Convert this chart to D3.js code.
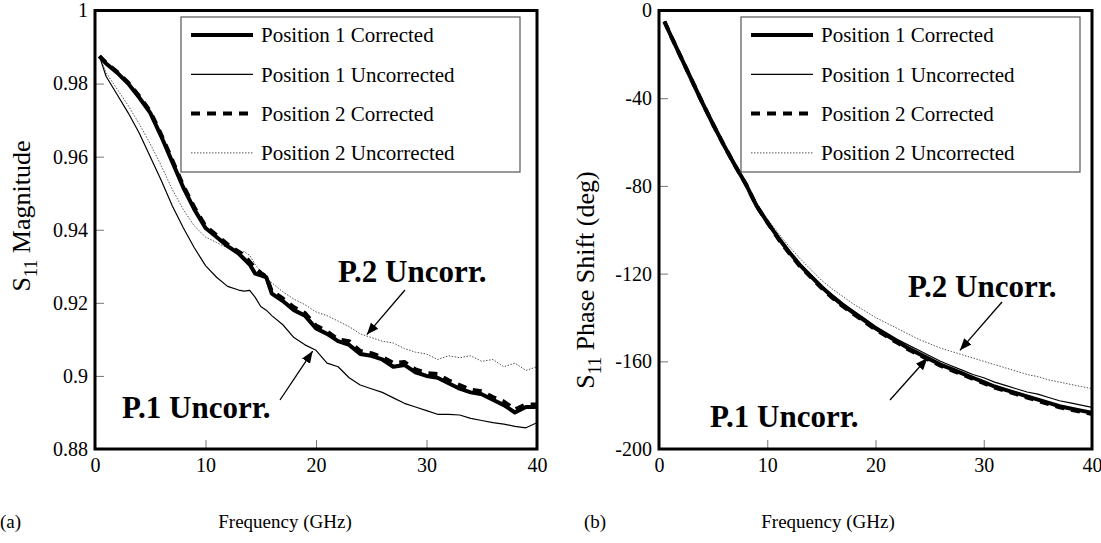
<!DOCTYPE html>
<html>
<head>
<meta charset="utf-8">
<script src="https://cdn.jsdelivr.net/npm/d3@7"></script>
<style>
  body { margin: 0; background: #fff; }
  svg { display: block; }
</style>
</head>
<body>
<div id="chart"></div>
<script>
// ---- data ----
var seriesNames = ['Position 1 Corrected', 'Position 1 Uncorrected', 'Position 2 Corrected', 'Position 2 Uncorrected'];

var magFreq = [0.4, 1, 2, 3, 4, 5, 6, 7, 8, 9, 10, 11, 12, 13, 13.5, 14, 14.5, 15, 15.5, 16, 17, 18, 19, 20, 21, 22, 23, 24, 25, 26, 27, 28, 29, 30, 31, 32, 33, 34, 35, 36, 37, 38, 39, 40];
var magP1Corr = [0.9875, 0.9855, 0.9830, 0.9800, 0.9762, 0.9720, 0.9655, 0.9585, 0.9515, 0.9455, 0.9405, 0.9380, 0.9355, 0.9335, 0.9320, 0.9305, 0.9280, 0.9275, 0.9270, 0.9225, 0.9205, 0.9180, 0.9165, 0.9130, 0.9115, 0.9095, 0.9085, 0.9060, 0.9055, 0.9045, 0.9025, 0.9030, 0.9010, 0.9000, 0.8995, 0.8980, 0.8965, 0.8955, 0.8950, 0.8935, 0.8920, 0.8900, 0.8915, 0.8915];
var magP2Corr = [0.9875, 0.9857, 0.9832, 0.9803, 0.9766, 0.9724, 0.9660, 0.9590, 0.9520, 0.9461, 0.9410, 0.9385, 0.9360, 0.9340, 0.9330, 0.9312, 0.9295, 0.9282, 0.9272, 0.9232, 0.9212, 0.9188, 0.9172, 0.9138, 0.9122, 0.9100, 0.9095, 0.9068, 0.9062, 0.9052, 0.9035, 0.9038, 0.9018, 0.9008, 0.9005, 0.8988, 0.8975, 0.8962, 0.8958, 0.8942, 0.8930, 0.8908, 0.8922, 0.8922];
var magP1Uncorr = [0.9875, 0.9820, 0.9770, 0.9720, 0.9665, 0.9600, 0.9535, 0.9465, 0.9405, 0.9350, 0.9302, 0.9270, 0.9245, 0.9235, 0.9232, 0.9234, 0.9215, 0.9190, 0.9180, 0.9165, 0.9140, 0.9105, 0.9085, 0.9070, 0.9035, 0.9025, 0.8995, 0.8975, 0.8965, 0.8955, 0.8940, 0.8925, 0.8915, 0.8905, 0.8895, 0.8895, 0.8893, 0.8884, 0.8878, 0.8872, 0.8868, 0.8862, 0.8858, 0.8872];
var magP2Uncorr = [0.9875, 0.9830, 0.9785, 0.9740, 0.9690, 0.9635, 0.9575, 0.9510, 0.9455, 0.9410, 0.9380, 0.9365, 0.9350, 0.9335, 0.9340, 0.9330, 0.9305, 0.9285, 0.9270, 0.9255, 0.9230, 0.9210, 0.9195, 0.9175, 0.9165, 0.9150, 0.9135, 0.9115, 0.9105, 0.9095, 0.9090, 0.9075, 0.9065, 0.9060, 0.9045, 0.9055, 0.9050, 0.9055, 0.9040, 0.9045, 0.9025, 0.9035, 0.9015, 0.9025];

var phFreq = [0.5, 1, 2, 3, 4, 5, 6, 7, 8, 9, 10, 11, 12, 13, 14, 15, 16, 17, 18, 19, 20, 21, 22, 23, 24, 25, 26, 27, 28, 29, 30, 31, 32, 33, 34, 35, 36, 37, 38, 39, 40];
var phP1Corr = [-5, -10.5, -21, -31.5, -42, -52, -61.5, -70.5, -79, -89, -96.5, -103.5, -110, -116, -121, -126, -130.5, -134.5, -138, -141.5, -145, -148, -151, -154, -156.5, -159, -161.5, -163.5, -165.5, -167.5, -169.5, -171.5, -173, -174.5, -176, -177.5, -179, -180.5, -181.5, -182.5, -183.5];
var phP2Corr = [-5, -10.5, -21, -31.5, -42, -52, -61.5, -70.5, -79, -89, -96.5, -104, -110.5, -116.5, -121.5, -126.5, -131, -135, -138.5, -142, -145.5, -148.5, -151.5, -154.5, -157, -159.5, -162, -164, -166, -168, -170, -172, -173.5, -175, -176.5, -178, -179.5, -181, -182, -183, -184];
var phP1Uncorr = [-5, -10.5, -21, -31.5, -42, -52, -61.5, -70.5, -79, -88.5, -96, -103, -109.5, -115.5, -120.5, -125.5, -129.5, -133.5, -137, -140.5, -144, -147, -150, -152.5, -155, -157.5, -160, -162, -164, -166, -167.5, -169.5, -171, -172.5, -174, -175, -176.5, -178, -179, -180, -181];
var phP2Uncorr = [-5, -10.5, -21, -31.5, -42, -52, -61.5, -70.5, -78.5, -87.5, -95, -101.5, -107.5, -113, -118, -123, -127, -130.5, -134, -137, -140, -142.5, -145, -147.5, -150, -152, -154, -155.5, -157, -158.5, -160, -161.5, -163, -164.5, -166, -167, -168.5, -169.5, -170.5, -171.5, -172.5];

var freqTicks = [0, 10, 20, 30, 40];
var magTicks = [0.88, 0.9, 0.92, 0.94, 0.96, 0.98, 1];
var magTickLabels = ['0.88', '0.9', '0.92', '0.94', '0.96', '0.98', '1'];
var phTicks = [-200, -160, -120, -80, -40, 0];
var phTickLabels = ['-200', '-160', '-120', '-80', '-40', '0'];

// ---- styles ----
const W = 1101, H = 543;
const serif = "Liberation Serif, 'DejaVu Serif', Times, serif";
var styles = [
    { width: 4, dash: null, color: '#000' },
    { width: 1.2, dash: null, color: '#000' },
    { width: 4, dash: '9,7', color: '#000' },
    { width: 1, dash: '1.5,1.5', color: '#555' }
];

const svg = d3.select('#chart').append('svg')
    .attr('width', W)
    .attr('height', H)
    .attr('font-family', serif);

const defs = svg.append('defs');
defs.append('marker')
    .attr('id', 'arrow')
    .attr('viewBox', '0 0 10 10')
    .attr('refX', 10)
    .attr('refY', 5)
    .attr('markerWidth', 12)
    .attr('markerHeight', 12)
    .attr('markerUnits', 'userSpaceOnUse')
    .attr('orient', 'auto')
    .append('path')
    .attr('d', 'M0,1 L10,5 L0,9 z')
    .attr('fill', '#000');

function drawPanel(opt) {
    const x = d3.scaleLinear().domain([0, 40]).range([opt.x0, opt.x1]);
    const y = d3.scaleLinear().domain(opt.yDomain).range([opt.y1, opt.y0]);
    const g = svg.append('g');

    g.append('clipPath').attr('id', opt.id + '-clip')
        .append('rect')
        .attr('x', opt.x0).attr('y', opt.y0)
        .attr('width', opt.x1 - opt.x0).attr('height', opt.y1 - opt.y0);

    // axes (ticks pointing inward)
    const xAxis = g.append('g')
        .attr('transform', 'translate(0,' + opt.y1 + ')')
        .call(d3.axisBottom(x).tickValues(freqTicks).tickSize(-9).tickPadding(9).tickFormat(d3.format('d')));
    const yAxis = g.append('g')
        .attr('transform', 'translate(' + opt.x0 + ',0)')
        .call(d3.axisLeft(y).tickValues(opt.ticks).tickSize(-9).tickPadding(7)
            .tickFormat((d, i) => opt.tickLabels[i]));
    [xAxis, yAxis].forEach(a => {
        a.attr('font-family', serif);
        a.select('.domain').remove();
        a.selectAll('.tick line').attr('stroke', '#777').attr('stroke-width', 1);
        a.selectAll('.tick text')
            .attr('fill', '#000')
            .style('font-family', serif)
            .style('font-size', '20px');
    });

    // curves
    const line = d3.line()
        .x(d => x(d[0]))
        .y(d => y(d[1]));
    const plot = g.append('g').attr('clip-path', 'url(#' + opt.id + '-clip)');
    // thin ones first, thick ones on top
    [3, 1, 0, 2].forEach(k => {
        const pts = opt.freq.map((f, i) => [f, opt.series[k][i]]);
        plot.append('path')
            .datum(pts)
            .attr('d', line)
            .attr('fill', 'none')
            .attr('stroke', styles[k].color)
            .attr('stroke-width', styles[k].width)
            .attr('stroke-dasharray', styles[k].dash)
            .attr('stroke-linejoin', 'round');
    });

    // frame
    g.append('rect')
        .attr('x', opt.x0).attr('y', opt.y0)
        .attr('width', opt.x1 - opt.x0).attr('height', opt.y1 - opt.y0)
        .attr('fill', 'none')
        .attr('stroke', '#000')
        .attr('stroke-width', 3);

    // legend
    const lg = g.append('g').attr('transform', 'translate(' + opt.legX + ',17)');
    lg.append('rect')
        .attr('x', 0).attr('y', 0)
        .attr('width', 339).attr('height', 155)
        .attr('fill', '#fff')
        .attr('stroke', '#555')
        .attr('stroke-width', 1.2);
    seriesNames.forEach((name, k) => {
        const yy = 18 + k * 39.3;
        lg.append('line')
            .attr('x1', 10).attr('x2', 72)
            .attr('y1', yy).attr('y2', yy)
            .attr('stroke', styles[k].color)
            .attr('stroke-width', styles[k].width)
            .attr('stroke-dasharray', styles[k].dash);
        lg.append('text')
            .attr('x', 80).attr('y', yy)
            .attr('dy', '0.35em')
            .text(name)
            .style('font-family', serif)
            .style('font-size', '21px');
    });

    // y title
    const yt = g.append('text')
        .attr('transform', 'translate(' + opt.yTitleX + ',' + opt.yTitleY + ') rotate(-90)')
        .attr('text-anchor', 'middle')
        .style('font-family', serif)
        .style('font-size', '26px');
    yt.append('tspan').text('S');
    yt.append('tspan').text('11').attr('dy', 7).style('font-size', '18px');
    yt.append('tspan').text(' ' + opt.yTitle).attr('dy', -7);

    // x title and panel tag
    g.append('text')
        .attr('x', opt.xTitleX).attr('y', 528)
        .attr('text-anchor', 'middle')
        .text('Frequency (GHz)')
        .style('font-family', serif)
        .style('font-size', '19px');
    g.append('text')
        .attr('x', opt.tagX).attr('y', 528)
        .text(opt.tag)
        .style('font-family', serif)
        .style('font-size', '19px');

    // annotations
    opt.notes.forEach(n => {
        g.append('text')
            .attr('x', n.tx).attr('y', n.ty)
            .text(n.label)
            .style('font-family', serif)
            .style('font-weight', 'bold')
            .style('font-size', '31px');
        g.append('line')
            .attr('x1', n.ax).attr('y1', n.ay)
            .attr('x2', x(n.tip[0])).attr('y2', y(n.tip[1]))
            .attr('stroke', '#000')
            .attr('stroke-width', 1.3)
            .attr('marker-end', 'url(#arrow)');
    });
}

drawPanel({
    id: 'mag', x0: 95, x1: 537, y0: 10.5, y1: 449,
    yDomain: [0.88, 1], ticks: magTicks, tickLabels: magTickLabels,
    freq: magFreq, series: [magP1Corr, magP1Uncorr, magP2Corr, magP2Uncorr],
    legX: 181, yTitle: 'Magnitude', yTitleX: 30, yTitleY: 216,
    xTitleX: 285, tag: '(a)', tagX: 0,
    notes: [
        { label: 'P.1 Uncorr.', tx: 122, ty: 418, ax: 280, ay: 400, tip: [19.7, 0.9068] },
        { label: 'P.2 Uncorr.', tx: 338, ty: 282, ax: 405, ay: 290, tip: [24.6, 0.9113] }
    ]
});

drawPanel({
    id: 'ph', x0: 659, x1: 1092, y0: 10.5, y1: 449,
    yDomain: [-200, 0], ticks: phTicks, tickLabels: phTickLabels,
    freq: phFreq, series: [phP1Corr, phP1Uncorr, phP2Corr, phP2Uncorr],
    legX: 741, yTitle: 'Phase Shift (deg)', yTitleX: 594, yTitleY: 280,
    xTitleX: 828, tag: '(b)', tagX: 584,
    notes: [
        { label: 'P.1 Uncorr.', tx: 710, ty: 427, ax: 890, ay: 400, tip: [24.8, -158.5] },
        { label: 'P.2 Uncorr.', tx: 908, ty: 297, ax: 1002, ay: 302, tip: [27.8, -155] }
    ]
});
</script>
</body>
</html>
